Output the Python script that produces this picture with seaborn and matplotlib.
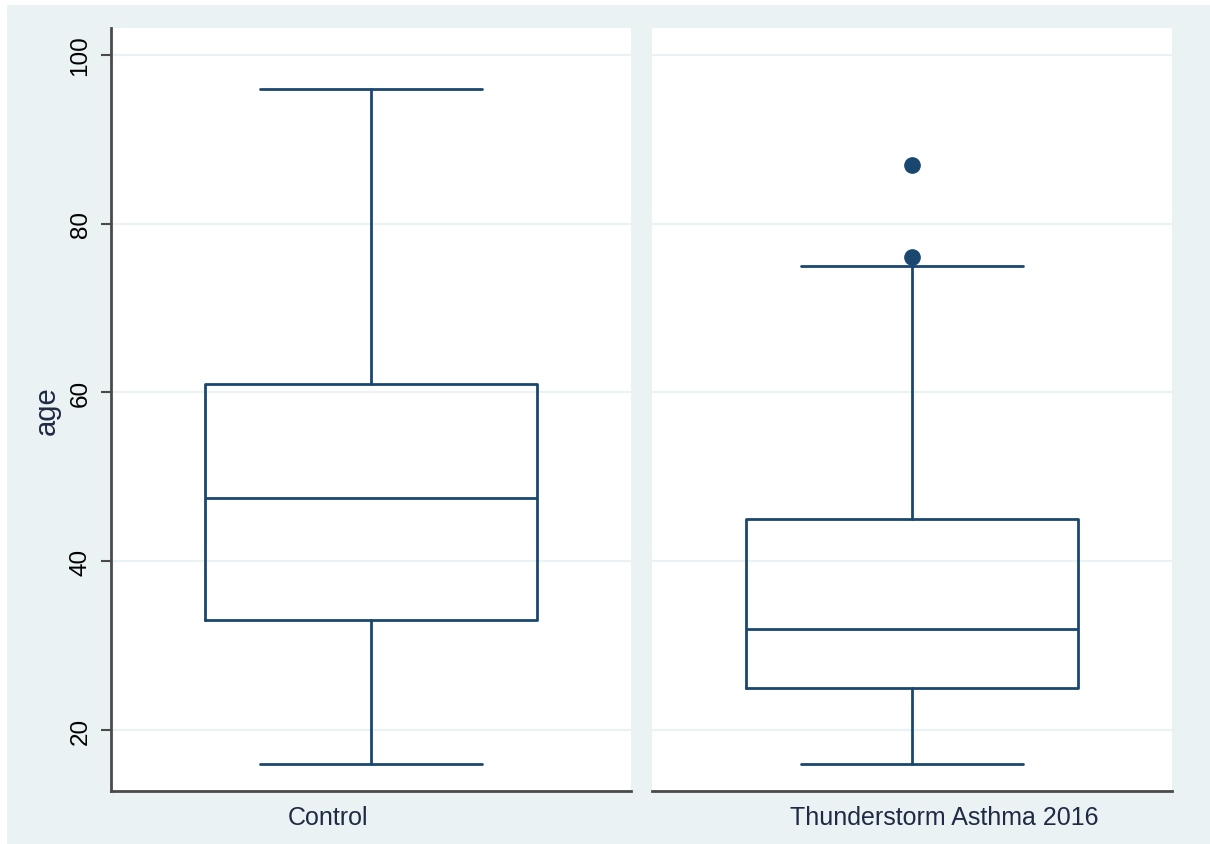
import matplotlib
matplotlib.use("Agg")
import matplotlib.pyplot as plt
from matplotlib.patches import Rectangle
import seaborn as sns

# Summary statistics of age per group (five-number summary + outliers)
groups = ["Control", "Thunderstorm Asthma 2016"]
whisker_low = [16, 16]
q1 = [33, 25]
median = [47.5, 32]
q3 = [61, 45]
whisker_high = [96, 75]
outliers = [[], [76, 87]]
yticks = [20, 40, 60, 80, 100]

NAVY = "#1a476f"
BG = "#eaf2f3"
AXIS = "#4a4a4a"
TEXT = "#1f2a44"

sns.set_theme(style="white")
plt.rcParams["font.family"] = ["Liberation Sans", "DejaVu Sans"]

fig = plt.figure(figsize=(12.1, 8.45), dpi=100, facecolor="white")
W, H = 1210, 845

# graph region background
fig.patches.append(Rectangle((7 / W, 0), 1 - 7 / W, 1 - 6 / H,
                             transform=fig.transFigure, facecolor=BG,
                             edgecolor="none", zorder=-10))

panel_left = [111, 652]
panel_w = 520
top_px, bot_px = 29, 792
label_pos = [0.417, 0.562]

axes = []
for i, name in enumerate(groups):
    ax = fig.add_axes([panel_left[i] / W, (H - bot_px) / H,
                       panel_w / W, (bot_px - top_px) / H])
    ax.set_facecolor("white")
    stats = [dict(med=median[i], q1=q1[i], q3=q3[i],
                  whislo=whisker_low[i], whishi=whisker_high[i],
                  fliers=outliers[i], label=name)]
    lw = 2.0
    ax.bxp(stats, positions=[0], widths=0.638, capwidths=0.427,
           showfliers=True, patch_artist=False,
           boxprops=dict(color=NAVY, linewidth=lw),
           medianprops=dict(color=NAVY, linewidth=lw),
           whiskerprops=dict(color=NAVY, linewidth=lw),
           capprops=dict(color=NAVY, linewidth=lw),
           flierprops=dict(marker="o", markerfacecolor=NAVY,
                           markeredgecolor=NAVY, markersize=11))
    ax.set_xlim(-0.5, 0.5)
    ax.set_ylim(12.77, 103.2)
    ax.set_yticks(yticks)
    ax.yaxis.grid(True, color=BG, linewidth=1.6)
    ax.set_axisbelow(True)
    ax.set_xticks([])
    for s in ["top", "right"]:
        ax.spines[s].set_visible(False)
    ax.spines["bottom"].set_color(AXIS)
    ax.spines["bottom"].set_linewidth(2)
    if i == 0:
        ax.spines["left"].set_color(AXIS)
        ax.spines["left"].set_linewidth(2)
        ax.tick_params(axis="y", left=True, length=7, width=1.5,
                       color=AXIS, labelsize=17.5, pad=7, labelcolor="black")
        for t in ax.get_yticklabels():
            t.set_rotation(90)
            t.set_va("center")
        ax.set_ylabel("age", fontsize=21, color=TEXT, labelpad=6)
    else:
        ax.spines["left"].set_visible(False)
        ax.tick_params(axis="y", left=False, labelleft=False)
        ax.set_ylabel("")
    ax.text(label_pos[i], -0.034, name, transform=ax.transAxes,
            ha="center", va="center", fontsize=18, color=TEXT)
    axes.append(ax)

fig.savefig("out.png", dpi=100, facecolor="white")
